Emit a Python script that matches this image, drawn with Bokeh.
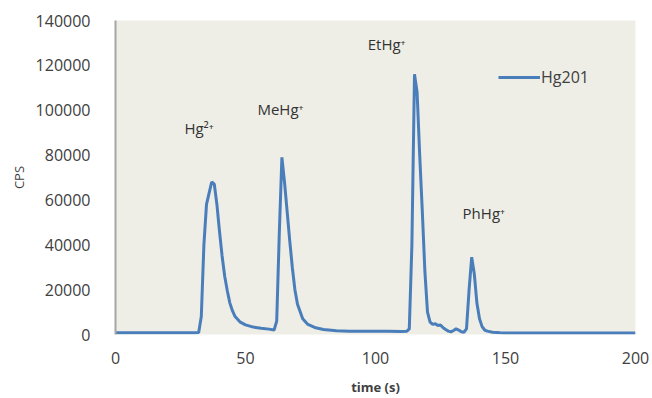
from bokeh.plotting import figure
from bokeh.models import Legend, LegendItem, FixedTicker, Range1d, Label
from bokeh.embed import file_html
from bokeh.resources import INLINE

# ---- data ----
time_s = [0, 5, 10, 15, 20, 25, 30, 32, 33, 34, 35, 36, 37, 38, 39, 40, 41, 42, 43, 44,
          45, 46, 48, 50, 53, 56, 59, 61, 62, 63, 64, 65, 66, 67, 68, 69, 70, 72, 74, 77,
          80, 85, 90, 95, 100, 105, 110, 112, 113, 114, 115, 116, 117, 118, 119, 120, 121,
          122, 123, 124, 125, 126, 127, 128, 129, 130, 131, 132, 133, 134, 135, 136, 137,
          138, 139, 140, 141, 142, 143, 145, 148, 150, 160, 170, 180, 190, 200]
hg201 = [800, 800, 800, 800, 800, 800, 800, 900, 8000, 40000, 58000, 63000, 68000, 67000,
         58000, 46000, 35000, 26000, 19500, 14000, 10500, 8000, 5500, 4300, 3300, 2800,
         2400, 2000, 6000, 45000, 79000, 68000, 55000, 42000, 30000, 20000, 13500, 7000,
         4500, 3000, 2200, 1700, 1500, 1400, 1500, 1500, 1300, 1400, 2500, 40000, 116000,
         108000, 80000, 55000, 28000, 10000, 5500, 4500, 4800, 4000, 4200, 3000, 2200, 1500,
         1200, 1800, 2500, 2000, 1200, 1000, 2500, 20000, 34500, 27000, 14000, 7000, 3500,
         2000, 1500, 1000, 800, 700, 700, 700, 700, 700, 700]

x_ticks = [0, 50, 100, 150, 200]
y_ticks = [0, 20000, 40000, 60000, 80000, 100000, 120000, 140000]

species = ["Hg²⁺", "MeHg⁺", "EtHg⁺", "PhHg⁺"]
species_x = [26.5, 54.6, 97.0, 133.5]
species_y = [92000, 100500, 129500, 54300]

FONT = "Open Sans"
TXT = "#404040"

p = figure(width=652, height=398, output_backend="svg", toolbar_location=None,
           x_range=Range1d(0, 200), y_range=Range1d(0, 140000),
           min_border_left=115, min_border_right=17, min_border_top=20, min_border_bottom=63)
p.background_fill_color = "#EEEDE6"
p.border_fill_color = "white"
p.outline_line_color = None
p.xgrid.visible = False
p.ygrid.visible = False

line = p.line(time_s, hg201, line_color="#4A7EBB", line_width=3)

p.xaxis.ticker = FixedTicker(ticks=x_ticks)
p.yaxis.ticker = FixedTicker(ticks=y_ticks)
for ax in (p.xaxis, p.yaxis):
    ax.major_tick_line_color = None
    ax.minor_tick_line_color = None
    ax.major_label_text_font = FONT
    ax.major_label_text_font_size = "16px"
    ax.major_label_text_color = TXT
    ax.axis_label_text_font = FONT
    ax.axis_label_text_color = TXT
    ax.axis_label_text_font_size = "13px"
p.xaxis.axis_line_color = None
p.yaxis.axis_line_color = "#A6A6A6"
p.yaxis.axis_line_width = 2
p.yaxis.major_label_standoff = 19
p.xaxis.major_label_standoff = 11
p.xaxis.axis_label = "time (s)"
p.xaxis.axis_label_text_font_style = "bold"
p.xaxis.axis_label_standoff = 11
p.yaxis.axis_label = "CPS"
p.yaxis.axis_label_text_font_style = "normal"
p.yaxis.axis_label_standoff = 5
p.yaxis.formatter.use_scientific = False

for name, xv, yv in zip(species, species_x, species_y):
    p.add_layout(Label(x=xv, y=yv, text=name, text_font=FONT, text_font_size="15px",
                       text_color="#333333", text_baseline="middle"))

legend = Legend(items=[LegendItem(label="Hg201", renderers=[line])],
                location=(383, 246), glyph_width=42, label_standoff=1, padding=0,
                margin=0, background_fill_alpha=0, border_line_color=None,
                label_text_font=FONT, label_text_font_size="16px", label_text_color=TXT)
p.add_layout(legend)

open("out.html", "w").write(file_html(p, INLINE))
